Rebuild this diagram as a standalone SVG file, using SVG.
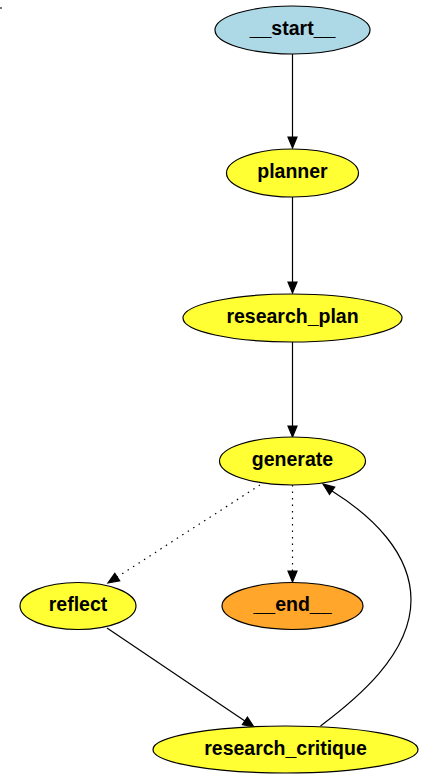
<svg xmlns="http://www.w3.org/2000/svg" width="438" height="782" viewBox="0 0 438 782">
<style>
.n ellipse{stroke:#000;stroke-width:1.2}
.n text{font-family:"Liberation Sans",Arial,sans-serif;font-weight:bold;font-size:19.5px;text-anchor:middle;fill:#000}
.mid ellipse{fill:#ffff33}
.e path{fill:none;stroke:#000;stroke-width:1.2}
.e polygon{fill:#000;stroke:#000;stroke-width:1.2}
.dot{stroke-dasharray:1.5,5}
</style>
<rect width="438" height="782" fill="#fff"/>
<rect x="0" y="7" width="2" height="2" fill="#777"/>
<g id="edges" class="e">
<path d="M292.5,54 L292.5,137"/>
<polygon points="288,137 297,137 292.5,148"/>
<path d="M292.5,197 L292.5,282"/>
<polygon points="288,282 297,282 292.5,293"/>
<path d="M292.5,342 L292.5,426"/>
<polygon points="288,426 297,426 292.5,437"/>
<path class="dot" d="M260,485 L117.2,577"/>
<polygon points="119.7,580.8 114.8,573.3 108,583"/>
<path class="dot" d="M292.5,485 L292.5,571"/>
<polygon points="288,571 297,571 292.5,582"/>
<path d="M107,628 L244.9,720.9"/>
<polygon points="242.4,724.6 247.4,717.1 254,727"/>
<path d="M320.5,726 C355,700 411,655 411,600 C411,553 372,516 332,491"/>
<polygon points="334.7,487.1 329.5,494.5 323,484"/>
</g>
<g id="start" class="n"><ellipse cx="292.5" cy="30" rx="77.5" ry="24" fill="#add8e6"/><text x="292.5" y="35">__start__</text></g>
<g id="planner" class="n mid"><ellipse cx="292.5" cy="173" rx="66" ry="24"/><text x="292.5" y="178">planner</text></g>
<g id="research_plan" class="n mid"><ellipse cx="292.5" cy="318" rx="109.5" ry="24"/><text x="292.5" y="323">research_plan</text></g>
<g id="generate" class="n mid"><ellipse cx="292.5" cy="461" rx="73" ry="24"/><text x="292.5" y="466">generate</text></g>
<g id="reflect" class="n mid"><ellipse cx="78" cy="606" rx="58" ry="23.5"/><text x="78" y="611">reflect</text></g>
<g id="end" class="n"><ellipse cx="292.5" cy="606" rx="70.5" ry="23.5" fill="#ffa62b"/><text x="292.5" y="611">__end__</text></g>
<g id="research_critique" class="n mid"><ellipse cx="285.5" cy="749.5" rx="132.5" ry="23.5"/><text x="285.5" y="754.5">research_critique</text></g>
</svg>
